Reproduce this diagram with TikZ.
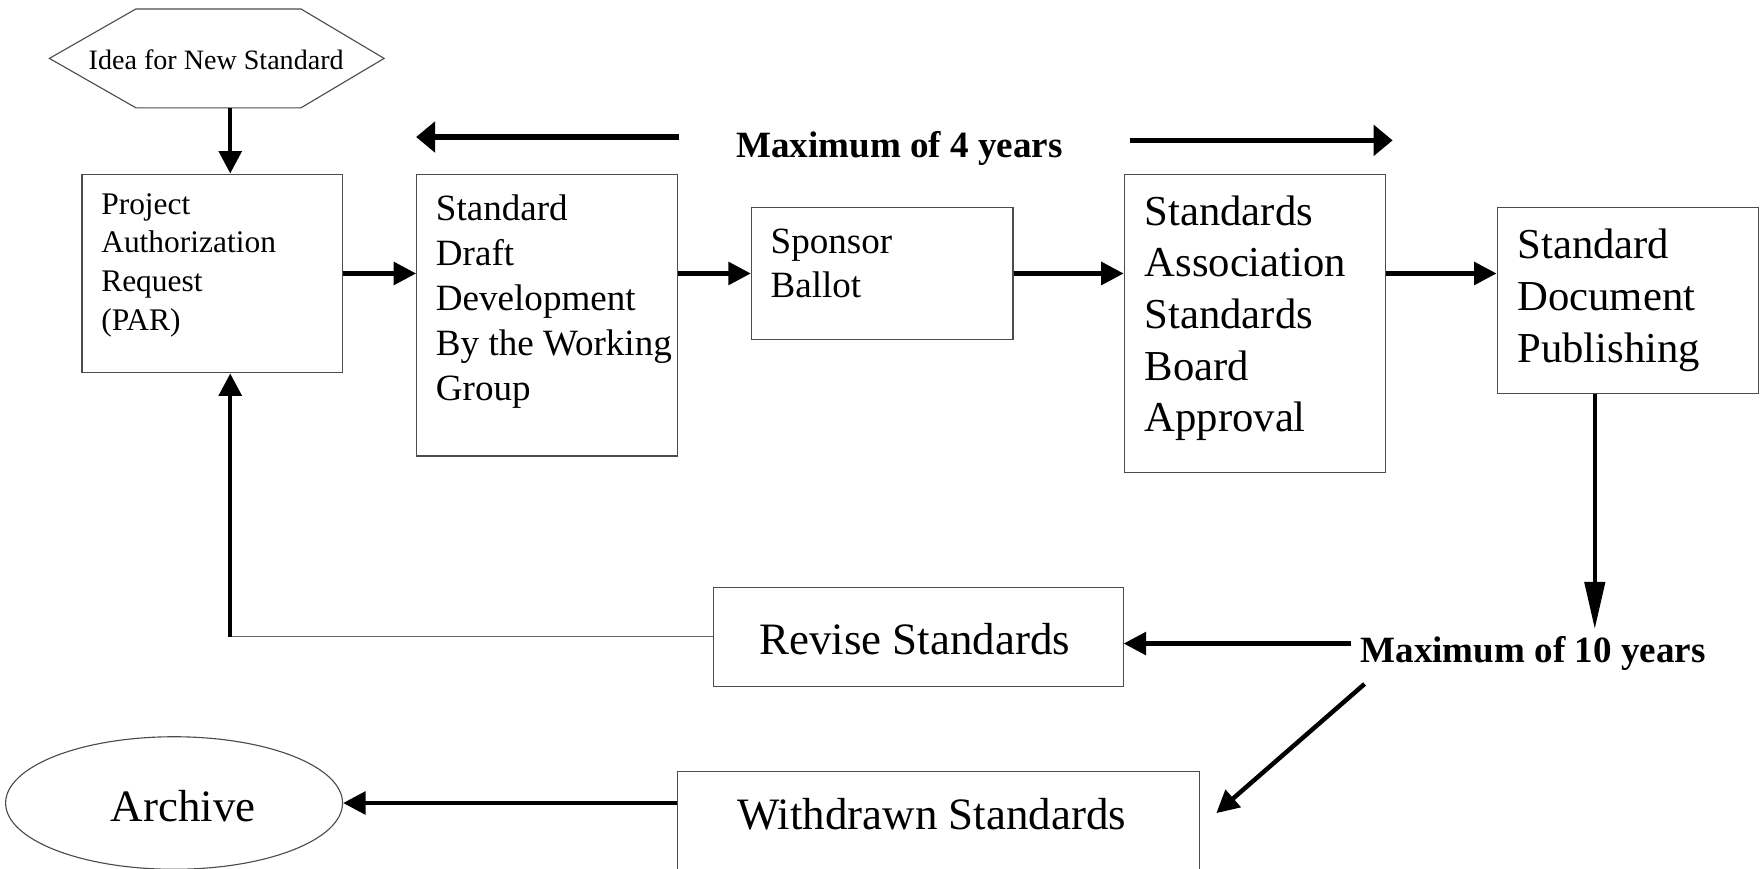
\documentclass[tikz,border=0pt]{standalone}
\usepackage{fontspec}
\setmainfont{Liberation Serif}
\usetikzlibrary{arrows.meta,shapes.geometric}
\begin{document}
\begin{tikzpicture}[x=1pt,y=-1pt,
  box/.style={draw=black!70, line width=1pt, rectangle, inner sep=0pt},
  txt/.style={inner sep=0pt, align=left, anchor=north west},
  lbl/.style={inner sep=0pt, anchor=base},
  arr/.style={line width=4pt, -{Triangle[length=20pt,width=20pt]}},
  arrbig/.style={line width=5pt, -{Triangle[length=17pt,width=27pt]}},
  arrlong/.style={line width=3.5pt, -{Triangle[length=42pt,width=18pt]}},
  thinline/.style={draw=black!60, line width=1pt}]
\useasboundingbox (0,0) rectangle (1568,773);
\clip (0,0) rectangle (1568,773);
\fill[white] (0,0) rectangle (1568,773);

% hexagon
\draw[draw=black!70, line width=1pt] (44,52) -- (121,8) -- (268,8) -- (342,52) -- (268,96) -- (121,96) -- cycle;
\node[lbl, font=\fontsize{25}{30}\selectfont] (idea) at (192.5,61.5) {Idea for New Standard};
\coordinate (ideab) at (205,96);

% boxes
\node[box, minimum width=232pt, minimum height=177pt] (par) at (189,243.5) {};
\node[box, minimum width=232pt, minimum height=251pt] (draft) at (487,280.5) {};
\node[box, minimum width=233pt, minimum height=117pt] (sponsor) at (785.5,243.5) {};
\node[box, minimum width=233pt, minimum height=266pt] (sasb) at (1117.5,288) {};
\node[box, minimum width=233pt, minimum height=165pt] (sdp) at (1449.5,267.5) {};
\node[box, minimum width=365pt, minimum height=88pt] (revise) at (817.5,567) {};
\node[box, minimum width=465pt, minimum height=113pt] (withdrawn) at (835.5,743.5) {};
\node[draw=black!70, line width=1pt, ellipse, inner sep=0pt, minimum width=300pt, minimum height=118pt] (archive) at (155,715) {};

% box texts
\node[txt, font=\fontsize{28}{34.5}\selectfont] (part) at (90,172) {Project\\Authorization\\Request\\(PAR)};
\node[txt, font=\fontsize{33}{40}\selectfont] (draftt) at (388,173.5) {Standard\\Draft\\Development\\By the Working\\Group};
\node[txt, font=\fontsize{33}{39}\selectfont] (sponsort) at (686,204) {Sponsor\\Ballot};
\node[txt, font=\fontsize{38}{46}\selectfont] (sasbt) at (1019,174) {Standards\\Association\\Standards\\Board\\Approval};
\node[txt, font=\fontsize{38}{46}\selectfont] (sdpt) at (1351,204) {Standard\\Document\\Publishing};
\node[lbl, font=\fontsize{40}{48}\selectfont] (revt) at (814.5,583) {Revise Standards};
\node[lbl, font=\fontsize{40}{48}\selectfont] (witt) at (829.5,739) {Withdrawn Standards};
\node[lbl, font=\fontsize{40}{48}\selectfont] (arct) at (163,731.5) {Archive};

% labels
\node[lbl, font=\bfseries\fontsize{33}{40}\selectfont] (m4) at (801,140) {Maximum of 4 years};
\node[lbl, font=\bfseries\fontsize{33}{40}\selectfont] (m10) at (1365,590) {Maximum of 10 years};

% free ends
\coordinate (m4a) at (605,122);
\coordinate (m4b) at (1006,125);
\coordinate (m4c) at (1240,125);
\coordinate (m10top) at (1420,560);
\coordinate (m10l) at (1203,573);
\coordinate (m10d) at (1215,609);
\coordinate (wd) at (1083,724);
\coordinate (corner) at (205,567);

% connectors
\draw[arr] (ideab) -- (ideab |- par.north);
\draw[arr] (par.east) -- (par.east -| draft.west);
\draw[arr] (par.east -| draft.east) -- (sponsor.west);
\draw[arr] (sponsor.east) -- (sponsor.east -| sasb.west);
\draw[arr] (par.east -| sasb.east) -- (par.east -| sdp.west);
\draw[arrbig] (m4a) -- (m4a -| draft.west);
\draw[arrbig] (m4b) -- (m4c);
\draw[arrlong] (m10top |- sdp.south) -- (m10top);
\draw[arr] (m10l) -- (m10l -| revise.east);
\draw[arr] (m10d) -- (wd);
\draw[thinline] (revise.west) -- (corner);
\draw[arr] (corner) -- (corner |- par.south);
\draw[arr] (withdrawn.west |- archive.east) -- (archive.east);
\end{tikzpicture}
\end{document}
